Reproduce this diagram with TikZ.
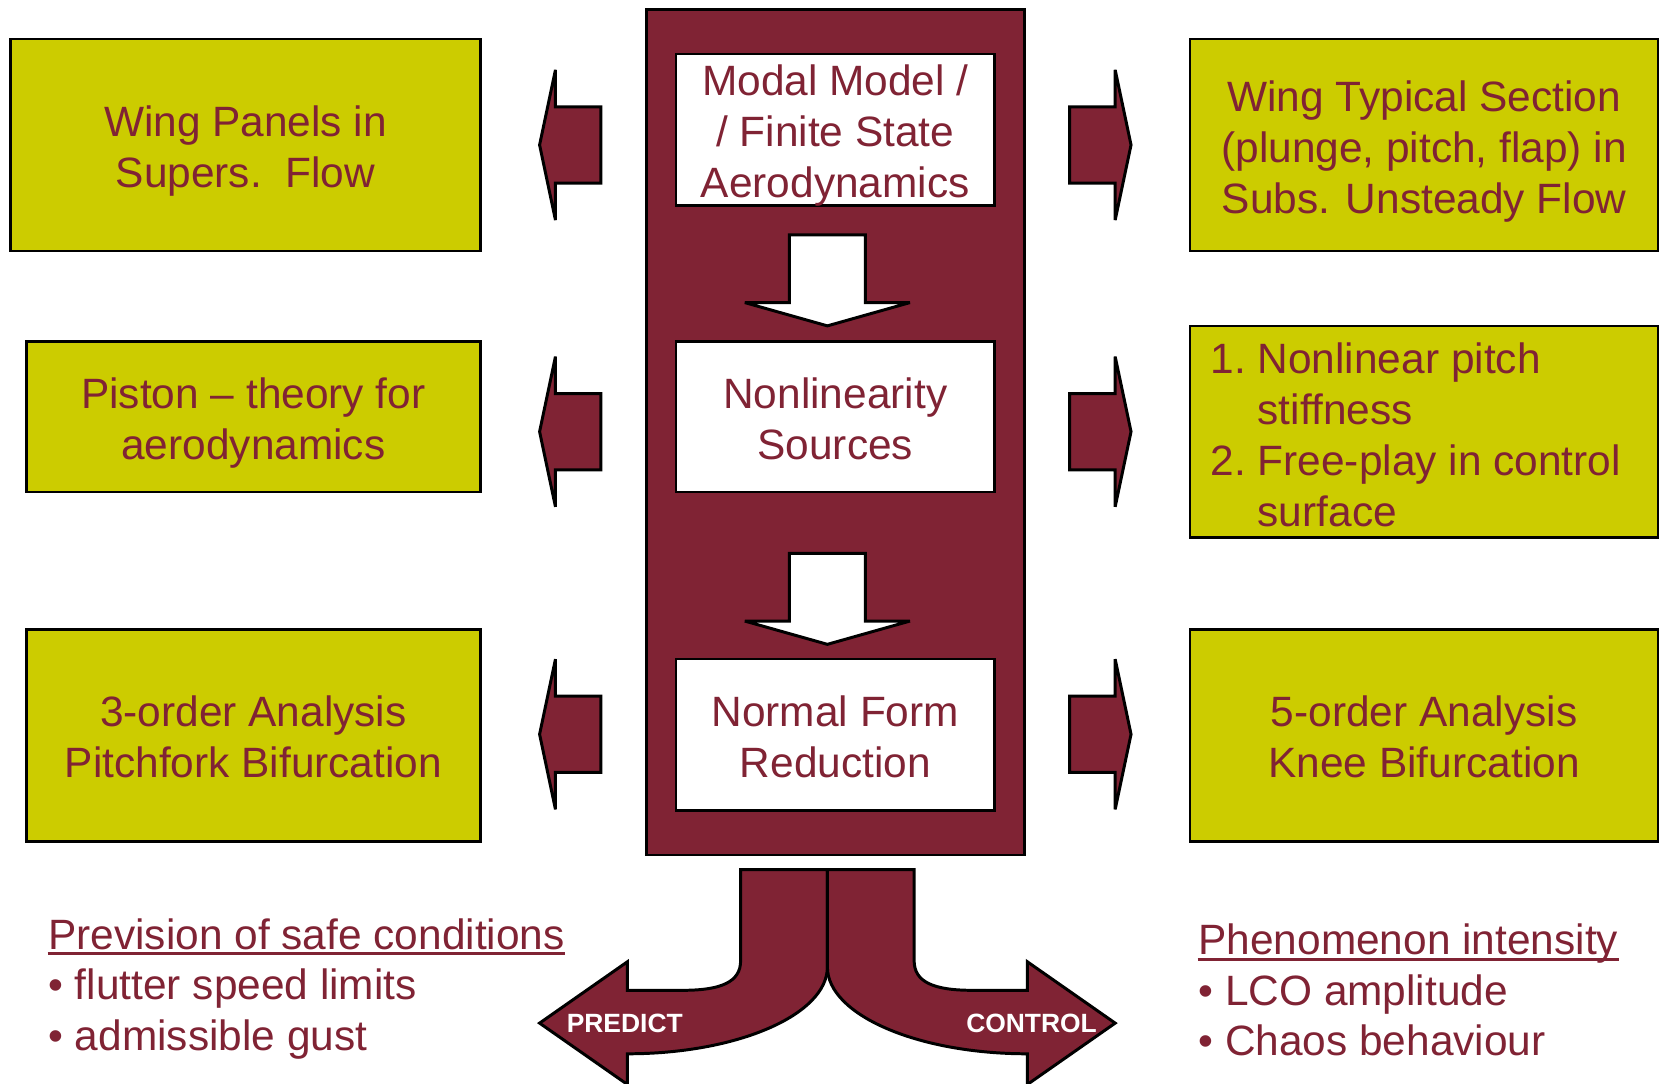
\documentclass[tikz,border=0pt]{standalone}
\usepackage{fontspec}
\setmainfont{Liberation Sans}
\definecolor{wine}{RGB}{128,35,52}
\definecolor{mustard}{RGB}{204,204,0}
\newcommand{\boxfont}{\fontsize{11.4pt}{13.7pt}\selectfont}
\newcommand{\tstrut}{\rule{0pt}{12.4pt}}
\tikzset{
  panel/.style={draw=black, line width=0.7pt, fill=mustard, text=wine, align=center, font=\boxfont, inner sep=0pt, text depth=3.2pt},
  stage/.style={draw=black, line width=0.7pt, fill=white, text=wine, align=center, font=\boxfont, inner xsep=0pt, inner ysep=-0.2cm,
    text depth=3.2pt, minimum width=3.01cm, minimum height=1.43cm},
  column/.style={draw=black, line width=0.7pt, fill=wine, inner sep=0pt},
  blockarrow/.style={draw=black, line width=0.8pt, fill=wine, line join=miter, miter limit=3},
  whitearrow/.style={draw=black, line width=0.8pt, fill=white, line join=miter, miter limit=3},
  note/.style={text=wine, font=\boxfont, inner sep=0pt, anchor=base west},
  underbar/.style={draw=wine, line width=0.8pt},
  tag/.style={text=white, font=\fontsize{7.1pt}{8pt}\selectfont\bfseries, inner sep=0pt}
}
\begin{document}
\begin{tikzpicture}[x=0.01cm, y=-0.01cm]
\useasboundingbox (0,0) rectangle (1568,1024);
\node [column, minimum width=3.57cm, minimum height=7.99cm] (col) at (789.5,408.5) {};
\node [stage] (modal) at (789.5,122.5) {\tstrut Modal Model /\\/ Finite State\\Aerodynamics};
\node [stage, minimum height=1.42cm] (nonlin) at (789.5,394) {\tstrut Nonlinearity\\Sources};
\node [stage] (normal) at (789.5,694.5) {\tstrut Normal Form\\Reduction};
\node [panel, minimum width=4.44cm, minimum height=2cm] (wingpan) at (232,137) {\tstrut Wing Panels in\\Supers.\ \ Flow};
\node [panel, minimum width=4.29cm, minimum height=1.42cm] (piston) at (239.5,394) {\tstrut Piston -- theory for\\aerodynamics};
\node [panel, minimum width=4.29cm, minimum height=2cm] (third) at (239.5,695) {\tstrut 3-order Analysis\\Pitchfork Bifurcation};
\node [panel, minimum width=4.42cm, minimum height=2cm] (typsec) at (1346,137) {\tstrut Wing Typical Section\\(plunge, pitch, flap) in\\Subs. Unsteady Flow};
\node [panel, minimum width=4.42cm, minimum height=2cm] (sources) at (1346,408) {};
\node [text=wine, font=\boxfont, inner sep=0pt, anchor=west] (srclist) at ([xshift=0.2cm, yshift=-2.1pt]sources.west)
  {\begin{tabular}{@{}l@{\hspace{0.11cm}}l@{}}1. & Nonlinear pitch\\ & stiffness\\ 2. & Free-play in control\\ & surface\end{tabular}};
\node [panel, minimum width=4.42cm, minimum height=2cm] (fifth) at (1346,695) {\tstrut 5-order Analysis\\Knee Bifurcation};
\foreach \c in {137,408,694} {
  \draw [blockarrow] (568,\c-36) -- (525,\c-36) -- (525,\c-71) -- (510,\c) -- (525,\c+71) -- (525,\c+36) -- (568,\c+36) -- cycle;
  \draw [blockarrow] (1011,\c-36) -- (1054,\c-36) -- (1054,\c-71) -- (1069,\c) -- (1054,\c+71) -- (1054,\c+36) -- (1011,\c+36) -- cycle;
}
\draw [whitearrow] (746,222) -- (818,222) -- (818,286) -- (860,286) -- (782,308) -- (704,286) -- (746,286) -- cycle;
\draw [whitearrow] (746,523) -- (818,523) -- (818,587) -- (860,587) -- (782,609) -- (704,587) -- (746,587) -- cycle;
\draw [blockarrow] (782,822) -- (700,822) -- (700,908) .. controls (700,928) and (682,936) .. (645,936) -- (593,936) -- (593,909)
  -- (510,967) -- (593,1025) -- (593,996) .. controls (697,996) and (782,959) .. (782,914) -- cycle;
\draw [blockarrow] (782,822) -- (864,822) -- (864,908) .. controls (864,928) and (882,936) .. (919,936) -- (971,936) -- (971,909)
  -- (1054,967) -- (971,1025) -- (971,996) .. controls (867,996) and (782,959) .. (782,914) -- cycle;
\node [tag] (predict) at (590.5,967) {PREDICT};
\node [tag] (control) at (975,967) {CONTROL};
\node [note] (prev) at (45,897) {Prevision of safe conditions};
\draw [underbar] ([yshift=-1.3pt]prev.base west) -- ([yshift=-1.3pt]prev.base east);
\node [note] (flutter) at (45,945) {\textbullet\ flutter speed limits};
\node [note] (gust) at (45,993) {\textbullet\ admissible gust};
\node [note] (phen) at (1132,902) {Phenomenon intensity};
\draw [underbar] ([yshift=-1.3pt]phen.base west) -- ([yshift=-1.3pt]phen.base east);
\node [note] (lco) at (1132,950) {\textbullet\ LCO amplitude};
\node [note] (chaos) at (1132,998) {\textbullet\ Chaos behaviour};
\end{tikzpicture}
\end{document}
